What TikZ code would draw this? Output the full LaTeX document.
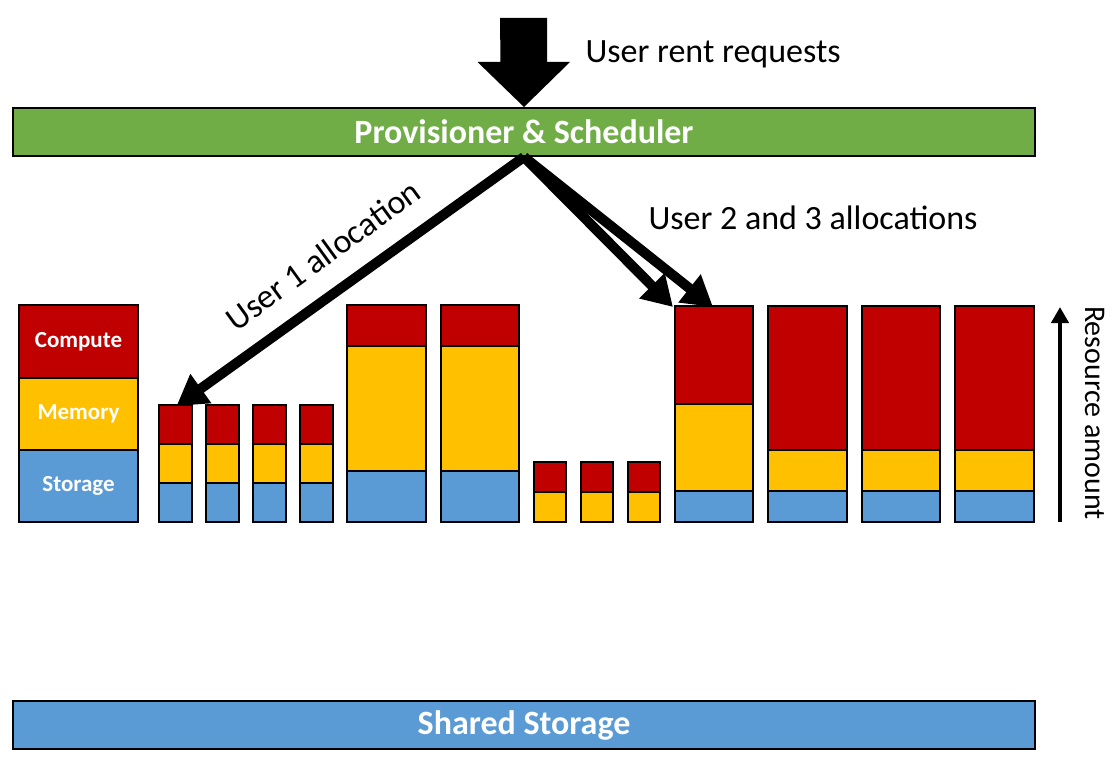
\documentclass[tikz,border=0pt]{standalone}
\usepackage{fontspec}
\setmainfont{Carlito}
\usetikzlibrary{arrows.meta}
\definecolor{cred}{HTML}{C00000}
\definecolor{cyel}{HTML}{FFC000}
\definecolor{cblu}{HTML}{5B9BD5}
\definecolor{cgrn}{HTML}{70AD47}
\newcommand\segm[6]{\node[seg,fill=#6,minimum width={#3-#2},minimum height={#5-#4}] (#1) at (#2,#4) {};}
\begin{document}
\begin{tikzpicture}[x=1pt,y=-1pt,
  seg/.style={draw=black,line width=2pt,inner sep=0pt,outer sep=0pt,anchor=north west},
  band/.style={draw=black,line width=2pt,inner sep=0pt,anchor=north west,text=white,font=\fontsize{34}{40}\selectfont\bfseries},
  legtext/.style={text=white,font=\fontsize{23}{27}\selectfont\bfseries},
  lbl/.style={font=\fontsize{34}{40}\selectfont},
  alloc/.style={line width=10pt,-{Triangle[length=30pt,width=34pt]}}]
\path[use as bounding box] (0,0) rectangle (1117,765);
% bands
\node[band,fill=cgrn,minimum width=1022,minimum height=48] (prov) at (12,107) {Provisioner \& Scheduler};
\node[band,fill=cblu,minimum width=1022,minimum height=48] (shared) at (12,700) {Shared Storage};
% top request arrow (block arrow ending at the scheduler)
\coordinate (req) at (523.5,18);
\fill[black] (req) ++(-23.5,0) -- ++(47,0) -- ++(0,44) -- ++(23,0) -- (prov.north) -- ++(-46.5,-45) -- ++(23,0) -- cycle;
\node[lbl,anchor=west] (reqt) at (582,54) {User rent requests};
% legend column
\node[seg,fill=cred,minimum width=119,minimum height=73,legtext] (lc) at (19,305) {Compute};
\node[seg,fill=cyel,minimum width=119,minimum height=72,legtext] (lm) at (19,378) {Memory};
\node[seg,fill=cblu,minimum width=119,minimum height=72,legtext] (ls) at (19,450) {Storage};
% small bars group 1
\segm{a1c}{159}{192}{405}{444}{cred}\segm{a1m}{159}{192}{444}{483}{cyel}\segm{a1s}{159}{192}{483}{522}{cblu}
\segm{a2c}{206}{239}{405}{444}{cred}\segm{a2m}{206}{239}{444}{483}{cyel}\segm{a2s}{206}{239}{483}{522}{cblu}
\segm{a3c}{253}{286}{405}{444}{cred}\segm{a3m}{253}{286}{444}{483}{cyel}\segm{a3s}{253}{286}{483}{522}{cblu}
\segm{a4c}{300}{333}{405}{444}{cred}\segm{a4m}{300}{333}{444}{483}{cyel}\segm{a4s}{300}{333}{483}{522}{cblu}
% medium bars
\segm{b1c}{347}{426}{305}{346}{cred}\segm{b1m}{347}{426}{346}{471}{cyel}\segm{b1s}{347}{426}{471}{522}{cblu}
\segm{b2c}{441}{519}{305}{346}{cred}\segm{b2m}{441}{519}{346}{471}{cyel}\segm{b2s}{441}{519}{471}{522}{cblu}
% small bars group 2
\segm{c1c}{534}{566}{462}{492}{cred}\segm{c1m}{534}{566}{492}{522}{cyel}
\segm{c2c}{581}{613}{462}{492}{cred}\segm{c2m}{581}{613}{492}{522}{cyel}
\segm{c3c}{628}{660}{462}{492}{cred}\segm{c3m}{628}{660}{492}{522}{cyel}
% large bars
\segm{r1c}{675}{753}{306}{404}{cred}\segm{r1m}{675}{753}{404}{491}{cyel}\segm{r1s}{675}{753}{491}{522}{cblu}
\segm{r2c}{768}{847}{306}{450}{cred}\segm{r2m}{768}{847}{450}{491}{cyel}\segm{r2s}{768}{847}{491}{522}{cblu}
\segm{r3c}{862}{940}{306}{450}{cred}\segm{r3m}{862}{940}{450}{491}{cyel}\segm{r3s}{862}{940}{491}{522}{cblu}
\segm{r4c}{955}{1034}{306}{450}{cred}\segm{r4m}{955}{1034}{450}{491}{cyel}\segm{r4s}{955}{1034}{491}{522}{cblu}
% allocation arrows
\draw[alloc] (prov.south) -- ([xshift=1pt,yshift=-1pt]a1c.north);
\draw[alloc] (prov.south) -- ([xshift=-2pt,yshift=-1pt]r1c.north west);
\draw[alloc] (prov.south) -- ([xshift=-1pt,yshift=-1pt]r1c.north);
\node[lbl,rotate=36] (u1) at (323,255) {User 1 allocation};
\node[lbl,anchor=west] (u23) at (645,218) {User 2 and 3 allocations};
% resource amount axis
\coordinate (ra0) at (1060,522);
\coordinate (ra1) at (1060,307);
\draw[line width=4pt,-{Triangle[length=16pt,width=17pt]}] (ra0) -- (ra1);
\node[font=\fontsize{30}{36}\selectfont,rotate=-90] (rat) at (1095,413) {Resource amount};
\end{tikzpicture}
\end{document}
